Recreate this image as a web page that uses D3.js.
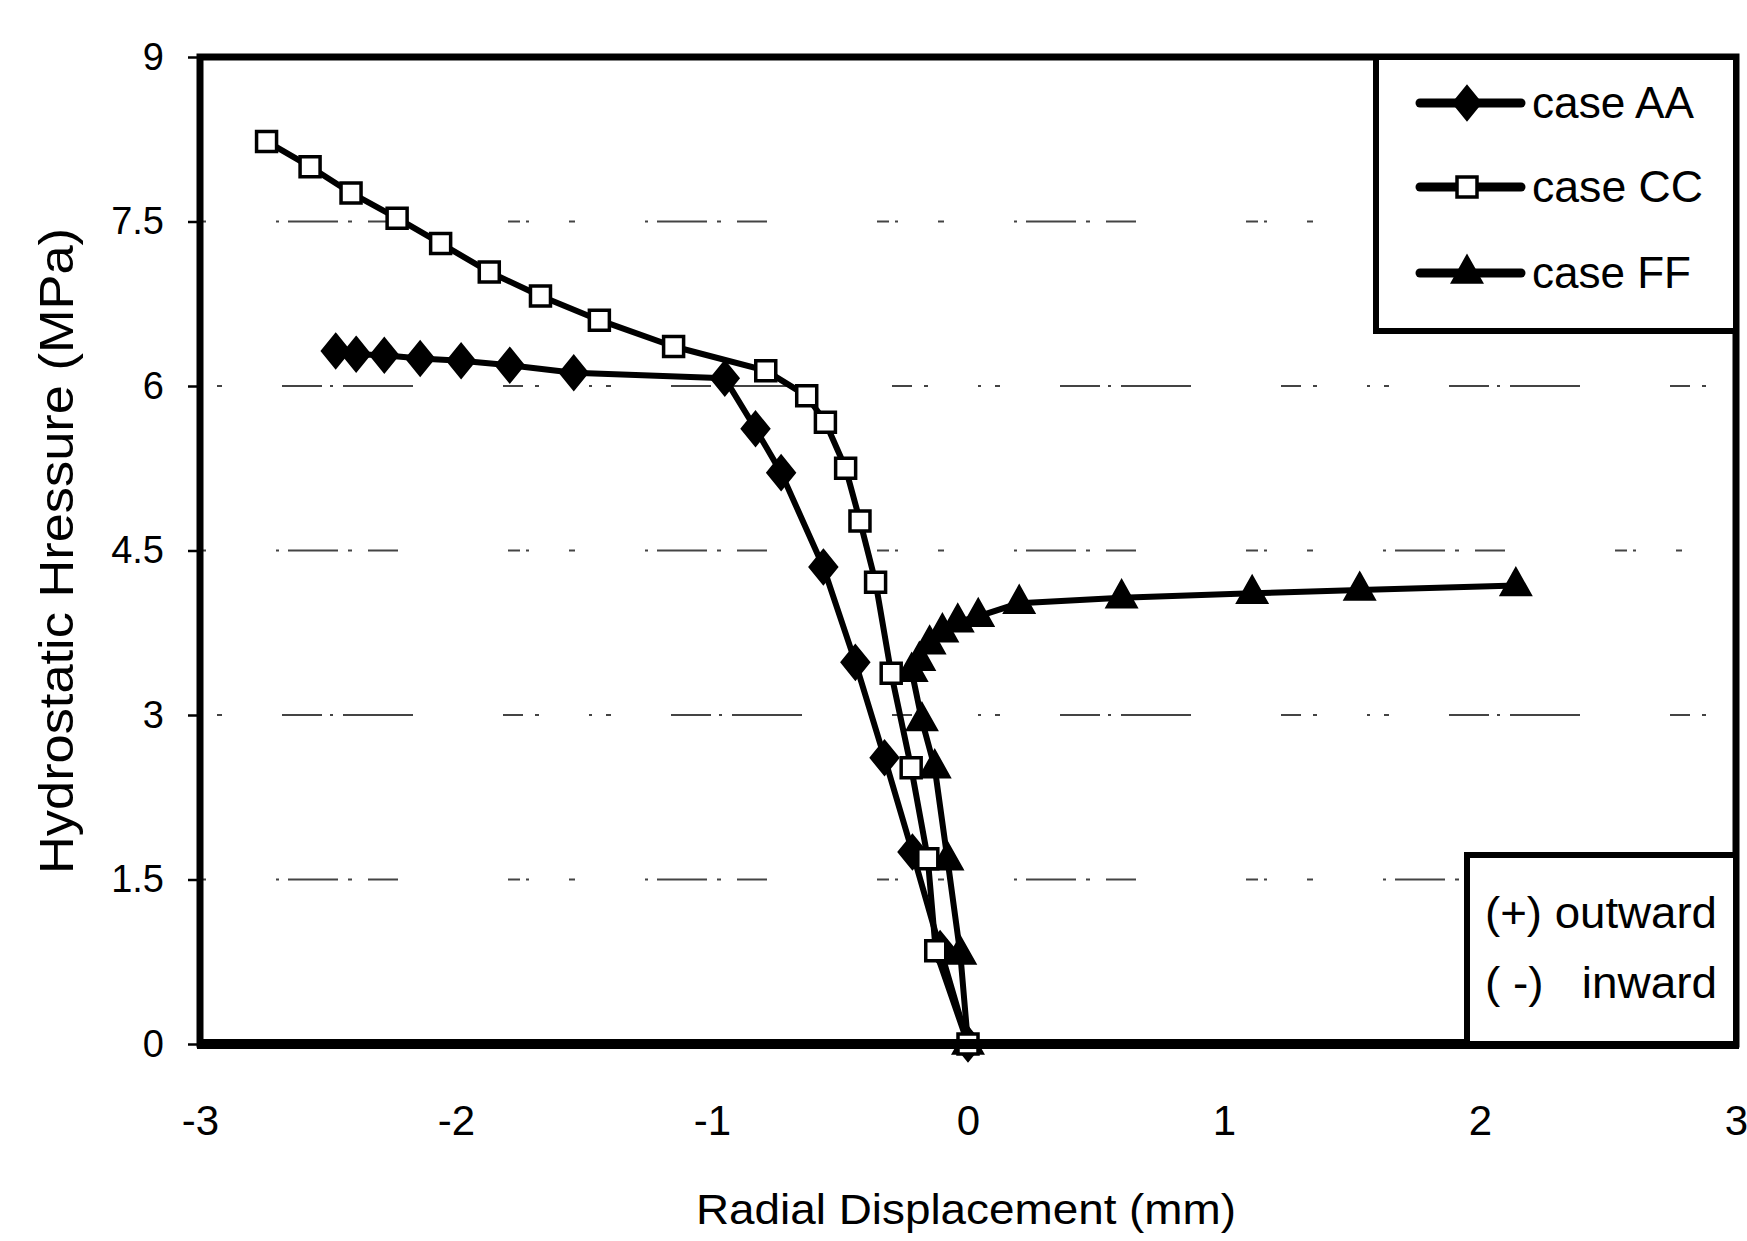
<!DOCTYPE html>
<html>
<head>
<meta charset="utf-8">
<script src="https://cdn.jsdelivr.net/npm/d3@7"></script>
<style>
  body { margin: 0; background: #fff; }
  svg { display: block; }
  text { font-family: "Liberation Sans", Arial, sans-serif; fill: #000; }
</style>
</head>
<body>
<div id="chart"></div>
<script>
// values
var aaX = [-2.47, -2.39, -2.28, -2.14, -1.98, -1.79, -1.54, -0.95, -0.83, -0.73, -0.565, -0.44, -0.326, -0.217, -0.109, 0];
var aaY = [6.32, 6.29, 6.28, 6.25, 6.23, 6.19, 6.12, 6.07, 5.61, 5.21, 4.35, 3.48, 2.61, 1.75, 0.87, 0];

var ccX = [-2.74, -2.57, -2.41, -2.23, -2.06, -1.87, -1.67, -1.44, -1.15, -0.79, -0.63, -0.557, -0.478, -0.422, -0.361, -0.30, -0.222, -0.157, -0.126, 0];
var ccY = [8.23, 8.00, 7.76, 7.53, 7.30, 7.04, 6.82, 6.60, 6.36, 6.14, 5.91, 5.67, 5.25, 4.77, 4.21, 3.38, 2.52, 1.69, 0.85, 0];

var ffX = [0, -0.03, -0.08, -0.13, -0.18, -0.22, -0.19, -0.15, -0.10, -0.04, 0.04, 0.20, 0.60, 1.11, 1.53, 2.14];
var ffY = [0, 0.82, 1.68, 2.52, 2.95, 3.40, 3.50, 3.65, 3.76, 3.85, 3.90, 4.02, 4.07, 4.11, 4.14, 4.18];

var xTicks = [-3, -2, -1, 0, 1, 2, 3];
var yTicks = [0, 1.5, 3, 4.5, 6, 7.5, 9];
var gridValues = [1.5, 3, 4.5, 6, 7.5];
var seriesNames = ['case AA', 'case CC', 'case FF'];
var noteLines = ['(+) outward', '( -)   inward'];

var svgWidth = 1747;
var svgHeight = 1241;
var margin = {top: 57, right: 11, bottom: 197, left: 200};
var width = svgWidth - margin.left - margin.right;
var height = svgHeight - margin.top - margin.bottom;

var svg = d3.select('#chart')
            .append('svg')
            .attr('width', svgWidth)
            .attr('height', svgHeight);

var chartGroup = svg.append('g')
                    .attr('transform', `translate(${margin.left}, ${margin.top})`);

var xScale = d3.scaleLinear().domain([-3, 3]).range([0, width]);
var yScale = d3.scaleLinear().domain([0, 9]).range([height, 0]);

// broken-looking grid lines like the scan
chartGroup.selectAll('.grid')
    .data(gridValues)
    .enter()
    .append('line')
    .attr('class', 'grid')
    .attr('x1', 0)
    .attr('x2', width)
    .attr('y1', d => yScale(d))
    .attr('y2', d => yScale(d))
    .attr('stroke', '#444')
    .attr('stroke-width', 2)
    .attr('stroke-dasharray', (d, i) => i % 2 ? '3,14,5,60,40,8,3,10,70,90,20,12,4,50' : '6,70,3,9,50,10,4,16,30,110,12,6,3,40');

// axes
var leftAxis = d3.axisLeft(yScale).tickValues(yTicks).tickSize(12).tickPadding(24).tickFormat(d => String(d));
var bottomAxis = d3.axisBottom(xScale).tickValues(xTicks).tickSize(5).tickFormat(d => String(d));

var yAxisG = chartGroup.append('g').call(leftAxis);
yAxisG.select('.domain').remove();
yAxisG.selectAll('line').attr('stroke', '#000').attr('stroke-width', 2.5);
yAxisG.selectAll('text')
    .attr('font-size', 38)
    .attr('font-family', '"Liberation Sans", Arial, sans-serif');

var xAxisG = chartGroup.append('g')
    .attr('transform', `translate(0, ${height})`)
    .call(bottomAxis);
xAxisG.select('.domain').remove();
xAxisG.selectAll('line').attr('stroke', '#000').attr('stroke-width', 2);
xAxisG.selectAll('text')
    .attr('y', 76)
    .attr('dy', '0.35em')
    .attr('font-size', 42)
    .attr('font-family', '"Liberation Sans Narrow", "Arial Narrow", "Liberation Sans", sans-serif');

// series
function pts(xs, ys) {
    return xs.map((x, i) => ({x: x, y: ys[i]}));
}
var aa = pts(aaX, aaY);
var cc = pts(ccX, ccY);
var ff = pts(ffX, ffY);

var line = d3.line().x(d => xScale(d.x)).y(d => yScale(d.y));

[aa, cc, ff].forEach(function(s) {
    chartGroup.append('path')
        .datum(s)
        .attr('d', line)
        .attr('fill', 'none')
        .attr('stroke', '#000')
        .attr('stroke-width', 6)
        .attr('stroke-linejoin', 'round');
});

var diamondPath = 'M0,-16L13,0L0,16L-13,0Z';
var squarePath = 'M-10,-10H10V10H-10Z';
var trianglePath = 'M0,-16L14,9L-14,9Z';

function drawMarkers(data, shape, fill) {
    chartGroup.selectAll(null)
        .data(data)
        .enter()
        .append('path')
        .attr('transform', d => `translate(${xScale(d.x)}, ${yScale(d.y)})`)
        .attr('d', shape)
        .attr('fill', fill)
        .attr('stroke', '#000')
        .attr('stroke-width', 3.5);
}
drawMarkers(aa, diamondPath, '#000');
drawMarkers(ff, trianglePath, '#000');
drawMarkers(cc, squarePath, '#fff');

// plot frame
chartGroup.append('rect')
    .attr('x', 0).attr('y', 0)
    .attr('width', width).attr('height', height)
    .attr('fill', 'none')
    .attr('stroke', '#000')
    .attr('stroke-width', 7);
chartGroup.append('line')
    .attr('x1', -3).attr('x2', width + 3)
    .attr('y1', height).attr('y2', height)
    .attr('stroke', '#000')
    .attr('stroke-width', 10);

// legend
var legend = svg.append('g');
legend.append('rect')
    .attr('x', 1376).attr('y', 57)
    .attr('width', 360).attr('height', 274)
    .attr('fill', '#fff')
    .attr('stroke', '#000')
    .attr('stroke-width', 6);

var legendShapes = [[diamondPath, '#000'], [squarePath, '#fff'], [trianglePath, '#000']];
var legendY = [103, 187, 273];
var legendLen = [162, 171, 159];

seriesNames.forEach(function(name, i) {
    var ly = legendY[i];
    legend.append('line')
        .attr('x1', 1420).attr('x2', 1521)
        .attr('y1', ly).attr('y2', ly)
        .attr('stroke', '#000')
        .attr('stroke-width', 9)
        .attr('stroke-linecap', 'round');
    legend.append('path')
        .attr('transform', `translate(1467, ${ly})`)
        .attr('d', legendShapes[i][0])
        .attr('fill', legendShapes[i][1])
        .attr('stroke', '#000')
        .attr('stroke-width', 3.5);
    legend.append('text')
        .attr('x', 1532)
        .attr('y', ly)
        .attr('dy', '0.35em')
        .attr('font-size', 44)
        .attr('textLength', legendLen[i])
        .attr('lengthAdjust', 'spacingAndGlyphs')
        .text(name);
});

// direction note box
var note = svg.append('g');
note.append('rect')
    .attr('x', 1467).attr('y', 855)
    .attr('width', 269).attr('height', 189)
    .attr('fill', '#fff')
    .attr('stroke', '#000')
    .attr('stroke-width', 6);
note.selectAll('text')
    .data(noteLines)
    .enter()
    .append('text')
    .attr('x', 1485)
    .attr('y', (d, i) => [913, 983][i])
    .attr('dy', '0.35em')
    .attr('font-size', 44)
    .attr('textLength', 232)
    .attr('lengthAdjust', 'spacingAndGlyphs')
    .style('white-space', 'pre')
    .text(d => d);

// axis titles
svg.append('text')
    .attr('transform', 'translate(56, 551) rotate(-90)')
    .attr('text-anchor', 'middle')
    .attr('dy', '0.35em')
    .attr('font-size', 48)
    .attr('textLength', 646)
    .attr('lengthAdjust', 'spacingAndGlyphs')
    .text('Hydrostatic Hressure (MPa)');

svg.append('text')
    .attr('x', 966)
    .attr('y', 1224)
    .attr('text-anchor', 'middle')
    .attr('font-size', 42)
    .attr('textLength', 540)
    .attr('lengthAdjust', 'spacingAndGlyphs')
    .text('Radial Displacement (mm)');
</script>
</body>
</html>
